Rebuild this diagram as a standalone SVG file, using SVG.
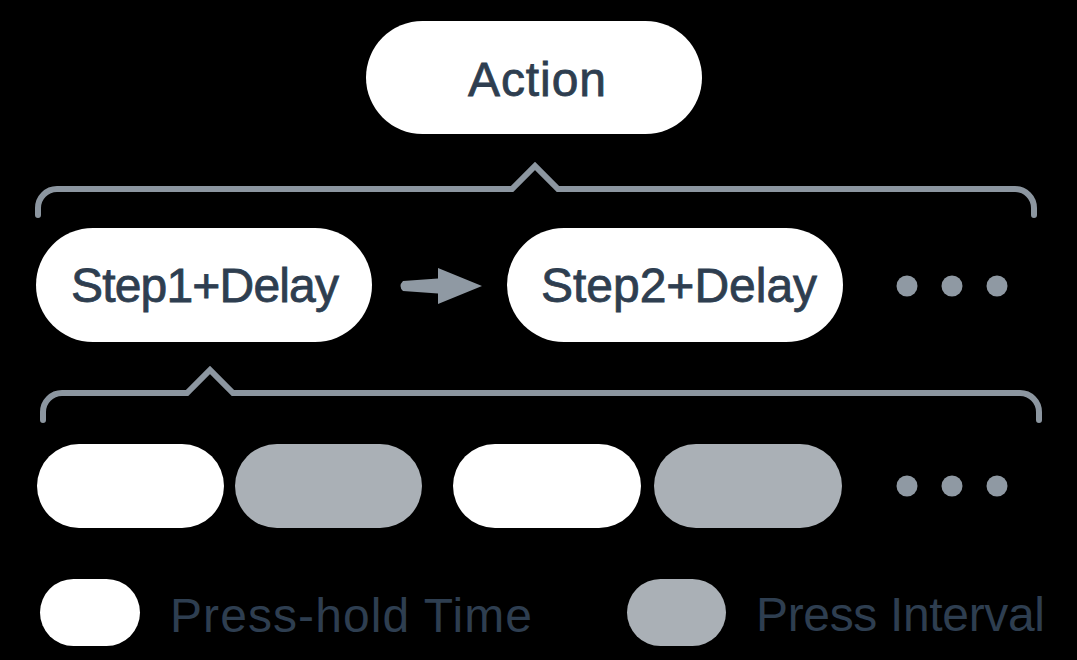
<svg xmlns="http://www.w3.org/2000/svg" width="1077" height="660" viewBox="0 0 1077 660">
<style>
.bg{fill:#000}
.pill{fill:#fff}
.gpill{fill:#aab0b6}
.lbl{font-family:"Liberation Sans",Arial,sans-serif;font-size:48px;fill:#2e3e50}
.node{stroke:#2e3e50;stroke-width:0.8}
.mid{text-anchor:middle}
.brk{fill:none;stroke:#8c96a0;stroke-width:6;stroke-linecap:round;stroke-linejoin:miter}
.dot{fill:#8f99a3}
.arr{fill:#8f99a3}
</style>
<rect class="bg" x="0" y="0" width="1077" height="660"/>
<g id="action">
<rect class="pill" x="366" y="21" width="336" height="113" rx="56.5"/>
<text class="lbl node mid" x="537" y="96" textLength="138" lengthAdjust="spacing">Action</text>
</g>
<g id="step1">
<rect class="pill" x="36" y="228" width="336" height="114" rx="57"/>
<text class="lbl node mid" x="205" y="302" textLength="268" lengthAdjust="spacing">Step1+Delay</text>
</g>
<g id="step2">
<rect class="pill" x="507" y="228" width="336" height="114" rx="57"/>
<text class="lbl node mid" x="679" y="302">Step2+Delay</text>
</g>
<g id="dots-top">
<circle class="dot" cx="907" cy="286" r="10.5"/>
<circle class="dot" cx="952" cy="286" r="10.5"/>
<circle class="dot" cx="997" cy="286" r="10.5"/>
</g>
<g id="timeline">
<rect class="pill" x="37" y="444" width="187" height="84" rx="42"/>
<rect class="gpill" x="235" y="444" width="187" height="84" rx="42"/>
<rect class="pill" x="453" y="444" width="188" height="84" rx="42"/>
<rect class="gpill" x="654" y="444" width="188" height="84" rx="42"/>
</g>
<g id="dots-bottom">
<circle class="dot" cx="907" cy="486" r="10.5"/>
<circle class="dot" cx="952" cy="486" r="10.5"/>
<circle class="dot" cx="997" cy="486" r="10.5"/>
</g>
<g id="connectors">
<path class="brk" d="M38,215 L38,208 A19,19 0 0 1 57,189 L512,189 L535,166 L558,189 L1015,189 A19,19 0 0 1 1034,208 L1034,215"/>
<path class="brk" d="M43,420 L43,412 A19,19 0 0 1 62,393 L187,393 L210,370 L233,393 L1020,393 A19,19 0 0 1 1039,412 L1039,420"/>
<path class="arr" d="M403,281 L438,278.5 L438,268 L482,286 L438,304 L438,293.5 L403,291 Q398,286 403,281 Z"/>
</g>
<g id="legend-hold">
<rect class="pill" x="40" y="579" width="100" height="67" rx="33.5"/>
<text class="lbl" x="170" y="632" textLength="362" lengthAdjust="spacing">Press-hold Time</text>
</g>
<g id="legend-interval">
<rect class="gpill" x="627" y="579" width="99" height="67" rx="33.5"/>
<text class="lbl" x="756" y="631" textLength="289" lengthAdjust="spacing">Press Interval</text>
</g>
</svg>
